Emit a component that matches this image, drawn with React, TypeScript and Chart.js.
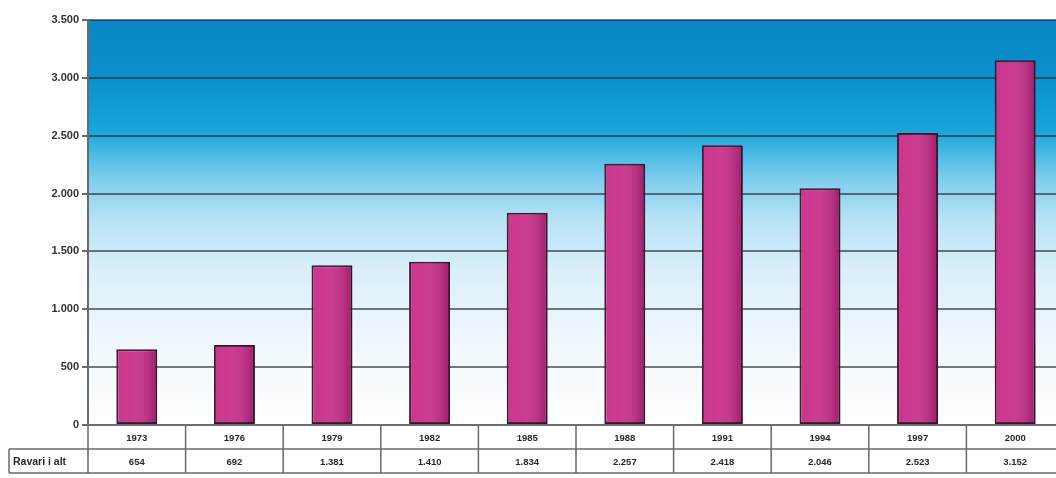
import React, { useEffect, useRef } from "react";
import { Chart, registerables } from "chart.js";

Chart.register(...registerables);

const years = ["1973", "1976", "1979", "1982", "1985", "1988", "1991", "1994", "1997", "2000"];
const values = [654, 692, 1381, 1410, 1834, 2257, 2418, 2046, 2523, 3152];
const valueLabels = ["654", "692", "1.381", "1.410", "1.834", "2.257", "2.418", "2.046", "2.523", "3.152"];
const rowLabel = "Ravari i alt";
const yTicks = [0, 500, 1000, 1500, 2000, 2500, 3000, 3500];

const fmt = (v: number) => (v >= 1000 ? Math.floor(v / 1000) + "." + String(v % 1000).padStart(3, "0") : String(v));

const bgPlugin = {
  id: "bgGradient",
  beforeDraw(chart: any) {
    const { ctx, chartArea } = chart;
    const { left, right, top, bottom } = chartArea;
    const g = ctx.createLinearGradient(0, top, 0, bottom);
    g.addColorStop(0, "#0a84c4");
    g.addColorStop(0.136, "#0a90cc");
    g.addColorStop(0.27, "#16a4d9");
    g.addColorStop(0.32, "#40b6e3");
    g.addColorStop(0.395, "#80ceee");
    g.addColorStop(0.49, "#b6e2f5");
    g.addColorStop(0.62, "#daeffa");
    g.addColorStop(0.8, "#f0f8fd");
    g.addColorStop(1, "#ffffff");
    ctx.save();
    ctx.fillStyle = g;
    ctx.fillRect(left, top, right - left, bottom - top);
    ctx.restore();
  },
};

const barShadePlugin = {
  id: "barShade",
  afterDatasetsDraw(chart: any) {
    const { ctx } = chart;
    const meta = chart.getDatasetMeta(0);
    ctx.save();
    meta.data.forEach((bar: any) => {
      const { x, y, base, width } = bar.getProps(["x", "y", "base", "width"], true);
      const l = x - width / 2 + 1;
      const r = x + width / 2 - 1;
      const g = ctx.createLinearGradient(l, 0, r, 0);
      g.addColorStop(0, "rgba(255,255,255,0.06)");
      g.addColorStop(0.35, "rgba(255,255,255,0.08)");
      g.addColorStop(1, "rgba(60,0,40,0.28)");
      ctx.fillStyle = g;
      ctx.fillRect(l, y + 1, r - l, base - y - 2);
    });
    ctx.restore();
  },
};

const tablePlugin = {
  id: "dataTable",
  afterDraw(chart: any) {
    const { ctx, chartArea, scales } = chart;
    const x = scales.x;
    const { left, right, bottom } = chartArea;
    const row1Top = bottom;
    const row1Bottom = bottom + 24;
    const row2Bottom = bottom + 48;
    const labelLeft = 9;
    ctx.save();
    ctx.strokeStyle = "#6a6a6a";
    ctx.lineWidth = 1.5;
    ctx.beginPath();
    ctx.moveTo(left, row1Top);
    ctx.lineTo(right, row1Top);
    ctx.moveTo(labelLeft, row1Bottom);
    ctx.lineTo(right, row1Bottom);
    ctx.moveTo(labelLeft, row2Bottom);
    ctx.lineTo(right, row2Bottom);
    ctx.moveTo(labelLeft, row1Bottom);
    ctx.lineTo(labelLeft, row2Bottom);
    const n = years.length;
    const w = (right - left) / n;
    for (let i = 0; i <= n; i++) {
      const px = i === 0 ? left : x.getPixelForValue(i - 1) + w / 2;
      ctx.moveTo(px, row1Top);
      ctx.lineTo(px, row2Bottom);
    }
    ctx.stroke();

    ctx.fillStyle = "#2a2a2a";
    ctx.textAlign = "center";
    ctx.textBaseline = "middle";
    ctx.font = "bold 9.5px Arial, 'Liberation Sans', sans-serif";
    for (let i = 0; i < n; i++) {
      const cx = x.getPixelForValue(i);
      ctx.fillText(years[i], cx, (row1Top + row1Bottom) / 2 + 1);
      ctx.fillText(valueLabels[i], cx, (row1Bottom + row2Bottom) / 2 + 1);
    }
    ctx.font = "bold 10.5px Arial, 'Liberation Sans', sans-serif";
    ctx.textAlign = "left";
    ctx.fillText(rowLabel, 13, (row1Bottom + row2Bottom) / 2 + 1);
    ctx.restore();
  },
};

export default function App() {
  const ref = useRef<HTMLCanvasElement | null>(null);
  useEffect(() => {
    if (!ref.current) return;
    const chart = new Chart(ref.current, {
      type: "bar",
      data: {
        labels: years,
        datasets: [
          {
            label: rowLabel,
            data: values,
            backgroundColor: "#c82a86",
            borderColor: "#3a1530",
            borderWidth: 2,
            borderSkipped: false,
            barPercentage: 0.42,
            categoryPercentage: 1,
          },
        ],
      },
      options: {
        responsive: false,
        animation: false,
        events: [],
        layout: { padding: { top: 20, bottom: 53, left: 0, right: 0 } },
        plugins: { legend: { display: false }, tooltip: { enabled: false } },
        scales: {
          x: { display: false },
          y: {
            min: 0,
            max: 3500,
            afterFit(scale: any) {
              scale.width = 88;
            },
            afterBuildTicks(scale: any) {
              scale.ticks = yTicks.map((v) => ({ value: v }));
            },
            ticks: {
              callback: (v: any) => fmt(Number(v)),
              color: "#333333",
              font: { family: "Arial, 'Liberation Sans', sans-serif", size: 11, weight: "bold" },
              padding: 3,
            },
            grid: {
              color: "rgba(35,40,45,0.62)",
              lineWidth: 2,
              tickLength: 6,
              tickColor: "#6a6a6a",
            },
            border: { display: true, color: "#6a6a6a", width: 2 },
          },
        },
      },
      plugins: [bgPlugin, barShadePlugin, tablePlugin],
    });
    return () => chart.destroy();
  }, []);
  return (
    <div style={{ position: "absolute", left: 0, top: 0, width: 1056, height: 478, overflow: "hidden", background: "#fff" }}>
      <canvas ref={ref} width={1064} height={478} style={{ display: "block", width: 1064, height: 478 }} />
    </div>
  );
}
